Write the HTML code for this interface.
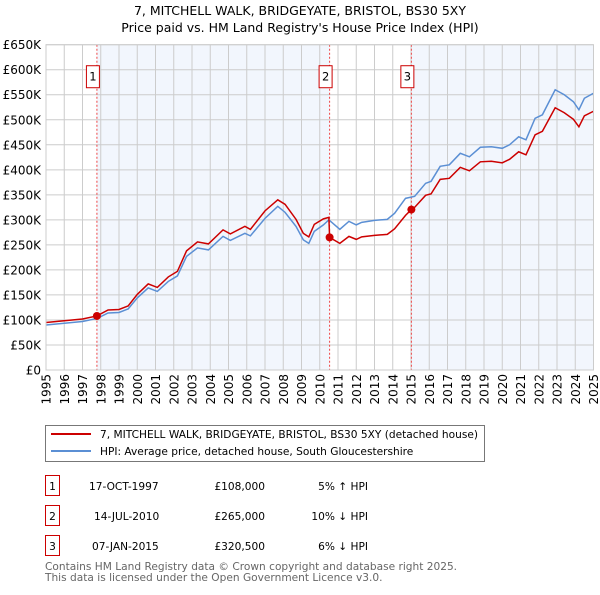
<!DOCTYPE html>
<html><head><meta charset="utf-8"><style>
body{margin:0;background:#fff;font-family:"Liberation Sans","DejaVu Sans",sans-serif;}
svg text{font-family:"DejaVu Sans","Liberation Sans",sans-serif;}
</style></head><body>
<svg id="c" width="600" height="590" xmlns="http://www.w3.org/2000/svg">
<text x="300" y="15" text-anchor="middle" font-size="12.5" fill="#000">7, MITCHELL WALK, BRIDGEYATE, BRISTOL, BS30 5XY</text>
<text x="300" y="32" text-anchor="middle" font-size="12.5" fill="#000">Price paid vs. HM Land Registry's House Price Index (HPI)</text>
<g id="plot"></g>
<g>
<rect x="45.5" y="425.5" width="439" height="36" fill="#fff" stroke="#777"/>
<line x1="51" y1="434" x2="91" y2="434" stroke="#cc0000" stroke-width="2"/>
<text x="100" y="438" font-size="10.6">7, MITCHELL WALK, BRIDGEYATE, BRISTOL, BS30 5XY (detached house)</text>
<line x1="51" y1="451" x2="91" y2="451" stroke="#5b8fd4" stroke-width="2"/>
<text x="100" y="455" font-size="10.6">HPI: Average price, detached house, South Gloucestershire</text>
</g>
<g font-size="10.6">
<rect x="45.5" y="475.5" width="14" height="20" fill="#fff" stroke="#cc0000"/><text x="52.5" y="490" text-anchor="middle">1</text>
<text x="89" y="490">17-OCT-1997</text><text x="265" y="490" text-anchor="end">£108,000</text><text x="368" y="490" text-anchor="end">5% ↑ HPI</text>
<rect x="45.5" y="505.5" width="14" height="20" fill="#fff" stroke="#cc0000"/><text x="52.5" y="520" text-anchor="middle">2</text>
<text x="94" y="520">14-JUL-2010</text><text x="265" y="520" text-anchor="end">£265,000</text><text x="368" y="520" text-anchor="end">10% ↓ HPI</text>
<rect x="45.5" y="535.5" width="14" height="20" fill="#fff" stroke="#cc0000"/><text x="52.5" y="550" text-anchor="middle">3</text>
<text x="92" y="550">07-JAN-2015</text><text x="265" y="550" text-anchor="end">£320,500</text><text x="368" y="550" text-anchor="end">6% ↓ HPI</text>
</g>
<text x="45" y="570" font-size="10.6" fill="#666">Contains HM Land Registry data © Crown copyright and database right 2025.</text>
<text x="45" y="581" font-size="10.6" fill="#666">This data is licensed under the Open Government Licence v3.0.</text>
</svg>
<script>
const yTicks=[0,50,100,150,200,250,300,350,400,450,500,550,600,650];
const yTickLabels=["£0","£50K","£100K","£150K","£200K","£250K","£300K","£350K","£400K","£450K","£500K","£550K","£600K","£650K"];
const xYears=[1995,1996,1997,1998,1999,2000,2001,2002,2003,2004,2005,2006,2007,2008,2009,2010,2011,2012,2013,2014,2015,2016,2017,2018,2019,2020,2021,2022,2023,2024,2025];
const hpiT=[1995,1997,1997.8,1998.4,1999,1999.5,2000,2000.6,2001.1,2001.7,2002.2,2002.7,2003.3,2003.9,2004.7,2005.1,2005.9,2006.2,2007,2007.7,2008.1,2008.7,2009.1,2009.4,2009.7,2010.2,2010.5,2011.1,2011.6,2012,2012.3,2013,2013.7,2014.1,2014.7,2015.2,2015.8,2016.1,2016.6,2017.1,2017.7,2018.2,2018.8,2019.4,2020,2020.4,2020.9,2021.3,2021.8,2022.2,2022.9,2023.4,2023.9,2024.2,2024.5,2025];
const hpiV=[90,97,103,114,115,122,144,164,157,177,188,227,244,240,267,259,273,268,303,327,315,287,260,253,277,290,300,281,297,290,295,299,301,313,343,347,373,377,407,410,433,426,445,446,443,450,466,460,503,510,560,550,536,520,543,553];
const priceT=[1995,1997,1997.79,1998.4,1999,1999.5,2000,2000.6,2001.1,2001.7,2002.2,2002.7,2003.3,2003.9,2004.7,2005.1,2005.9,2006.2,2007,2007.7,2008.1,2008.7,2009.1,2009.4,2009.7,2010.2,2010.5,2010.54,2011.1,2011.6,2012,2012.3,2013,2013.7,2014.1,2014.7,2015.02,2015.2,2015.8,2016.1,2016.6,2017.1,2017.7,2018.2,2018.8,2019.4,2020,2020.4,2020.9,2021.3,2021.8,2022.2,2022.9,2023.4,2023.9,2024.2,2024.5,2025];
const priceV=[95,102,108,120,121,128,151,172,165,186,197,238,256,252,280,272,287,281,318,340,331,301,273,266,291,302,305,265,253,267,261,266,269,271,282,309,320.5,325,349,352,381,383,405,398,416,417,414,421,436,430,470,477,524,514,501,486,508,517];
const saleT=[1997.79,2010.54,2015.02];
const saleV=[108,265,320.5];
const saleLabels=["1","2","3"];

const L=46,R=593.5,T=44.7,B=370;
const X=t=>L+(t-1995)/30*(R-L);
const Y=v=>B-v/650*(B-T);
const NS="http://www.w3.org/2000/svg";
const g=document.getElementById('plot');
function mk(tag,attrs,parent){const e=document.createElementNS(NS,tag);for(const k in attrs)e.setAttribute(k,attrs[k]);(parent||g).appendChild(e);return e;}
let e;
e=mk('rect',{x:L,y:T,width:R-L,height:B-T,fill:'#fff'});


e=mk('rect',{x:X(saleT[0]),y:T,width:X(saleT[1])-X(saleT[0]),height:B-T,fill:'#f2f6fd'});


e=mk('rect',{x:X(saleT[2]),y:T,width:R-X(saleT[2]),height:B-T,fill:'#f2f6fd'});


yTicks.forEach((v,i)=>{
  e=mk('line',{x1:L,x2:R,y1:Y(v),y2:Y(v),stroke:'#ccc'});
  
  
  e=mk('text',{x:L-5,y:Y(v)+4.5,'text-anchor':'end','font-size':'12'});
  e.textContent=yTickLabels[i];
  
  
});
xYears.forEach(yr=>{
  e=mk('line',{x1:X(yr),x2:X(yr),y1:T,y2:B,stroke:'#ccc'});
  
  
  e=mk('text',{x:0,y:0,'font-size':'12','text-anchor':'end',transform:`translate(${X(yr)+4.5},${B+4}) rotate(-90)`});
  e.textContent=yr;
  
  
});
saleT.forEach((t,i)=>{
  e=mk('line',{x1:X(t),x2:X(t),y1:T,y2:B,stroke:'#ee4444','stroke-dasharray':'2,2','stroke-width':1});
  
  
  e=mk('rect',{x:X(t)-10.5,y:Y(600)-4,width:13,height:22,fill:'#fff',stroke:'#cc0000'});
  
  
  e=mk('text',{x:X(t)-4,y:Y(600)+11,'text-anchor':'middle','font-size':'11.5'});
  e.textContent=saleLabels[i];
  
  
});
e=mk('polyline',{points:hpiT.map((t,i)=>X(t)+','+Y(hpiV[i])).join(' '),fill:'none',stroke:'#5b8fd4','stroke-width':1.5});


e=mk('polyline',{points:priceT.map((t,i)=>X(t)+','+Y(priceV[i])).join(' '),fill:'none',stroke:'#cc0000','stroke-width':1.5});


saleT.forEach((t,i)=>{
  e=mk('circle',{cx:X(t),cy:Y(saleV[i]),r:4,fill:'#cc0000'});
  
  
});
e=mk('rect',{x:L,y:T,width:R-L,height:B-T,fill:'none',stroke:'#ccc'});


</script>
</body></html>
